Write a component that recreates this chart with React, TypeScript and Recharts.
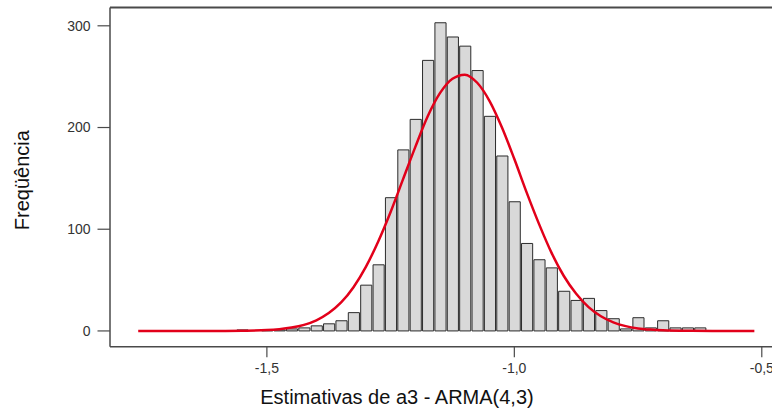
import React from 'react';
import { ComposedChart, Bar, Line, XAxis, YAxis, ReferenceLine, Label } from 'recharts';

// Histogram bins (centre of each 0.025-wide class) and their frequencies
const binCenters = [
  -1.55, -1.525, -1.5, -1.475, -1.45, -1.425, -1.4, -1.375, -1.35, -1.325,
  -1.3, -1.275, -1.25, -1.225, -1.2, -1.175, -1.15, -1.125, -1.1, -1.075,
  -1.05, -1.025, -1.0, -0.975, -0.95, -0.925, -0.9, -0.875, -0.85, -0.825,
  -0.8, -0.775, -0.75, -0.725, -0.7, -0.675, -0.65, -0.625,
];
const binCounts = [
  1, 0, 1, 1, 2, 3, 5, 7, 10, 18,
  45, 65, 131, 178, 208, 266, 303, 289, 280, 256,
  211, 172, 127, 86, 70, 62, 39, 30, 32, 20,
  12, 2, 13, 3, 10, 3, 3, 3,
];

// Fitted normal curve, sampled along the x axis
const curveX = [
  -1.76, -1.6, -1.55, -1.5, -1.475, -1.45, -1.425, -1.4, -1.375, -1.35,
  -1.325, -1.3, -1.275, -1.25, -1.225, -1.2, -1.175, -1.15, -1.125, -1.1,
  -1.075, -1.05, -1.025, -1.0, -0.975, -0.95, -0.925, -0.9, -0.875, -0.85,
  -0.825, -0.8, -0.775, -0.75, -0.725, -0.7, -0.65, -0.6, -0.515,
];
const curveY = [
  0, 0, 0.2, 0.8, 1.7, 3.3, 6, 10.5, 17.6, 28,
  43, 63, 88, 117, 149, 181, 211, 234, 248, 252,
  244, 226, 200, 169, 136, 105, 77, 54, 36.5, 23.4,
  14.4, 8.4, 4.7, 2.5, 1.3, 0.6, 0.1, 0, 0,
];

const xTicks = [-1.5, -1.0, -0.5];
const yTicks = [0, 100, 200, 300];

const BIN_WIDTH = 0.025;
const X_DOMAIN: [number, number] = [-1.817, -0.443];
const Y_DOMAIN: [number, number] = [-15.5, 318];

const histogram = binCenters.map((x, i) => ({ x, count: binCounts[i] }));
const normalCurve = curveX.map((x, i) => ({ x, y: curveY[i] }));

const CHART_W = 800;
const CHART_H = 410;
const MARGIN = { top: 7.5, right: 10, bottom: 0, left: 10 };
const Y_AXIS_W = 100;
const X_AXIS_H = 63.3;
const PLOT_W = CHART_W - MARGIN.left - MARGIN.right - Y_AXIS_W;
const BAR_PX = (BIN_WIDTH * PLOT_W) / (X_DOMAIN[1] - X_DOMAIN[0]);

const FONT = '"Liberation Sans", Arial, sans-serif';
const FRAME = '#4a4a4a';
const TEXT = '#333333';

const formatTick = (v: number) => v.toFixed(1).replace('.', ',');

const XTitle = (props: any) => {
  const vb = props.viewBox;
  return (
    <text
      x={vb.x + 287}
      y={vb.y + 57.5}
      textAnchor="middle"
      fontSize={20}
      fontFamily={FONT}
      fill="#111"
    >
      Estimativas de a3 - ARMA(4,3)
    </text>
  );
};

const YTitle = (props: any) => {
  const vb = props.viewBox;
  const cx = vb.x + 19;
  const cy = vb.y + vb.height / 2 + 3;
  return (
    <text
      x={cx}
      y={cy}
      transform={`rotate(-90 ${cx} ${cy})`}
      textAnchor="middle"
      fontSize={20}
      fontFamily={FONT}
      fill="#111"
    >
      Freqüência
    </text>
  );
};

export default function App() {
  return (
    <div
      style={{
        position: 'absolute',
        left: 0,
        top: 0,
        width: 772,
        height: 410,
        overflow: 'hidden',
        background: '#fff',
      }}
    >
      <ComposedChart
        width={CHART_W}
        height={CHART_H}
        data={histogram}
        margin={MARGIN}
        barCategoryGap={0}
        barGap={0}
      >
        <XAxis
          dataKey="x"
          type="number"
          domain={X_DOMAIN}
          allowDataOverflow
          ticks={xTicks}
          tickFormatter={formatTick}
          height={X_AXIS_H}
          tickSize={10.5}
          tickMargin={5.5}
          axisLine={{ stroke: FRAME, strokeWidth: 1.5 }}
          tickLine={{ stroke: FRAME, strokeWidth: 1.2 }}
          tick={{ fontSize: 14, fontFamily: FONT, fill: TEXT }}
        >
          <Label content={<XTitle />} />
        </XAxis>
        <YAxis
          type="number"
          domain={Y_DOMAIN}
          allowDataOverflow
          ticks={yTicks}
          width={Y_AXIS_W}
          tickSize={12.5}
          tickMargin={7}
          axisLine={{ stroke: FRAME, strokeWidth: 1.5 }}
          tickLine={{ stroke: FRAME, strokeWidth: 1.2 }}
          tick={{ fontSize: 14, fontFamily: FONT, fill: TEXT }}
        >
          <Label content={<YTitle />} />
        </YAxis>
        <ReferenceLine y={Y_DOMAIN[1]} stroke={FRAME} strokeWidth={2} ifOverflow="extendDomain" />
        <Bar
          dataKey="count"
          barSize={BAR_PX}
          fill="#d9d9d9"
          stroke="#2b2b2b"
          strokeWidth={1}
          isAnimationActive={false}
        />
        <Line
          data={normalCurve}
          dataKey="y"
          type="monotone"
          stroke="#e2001a"
          strokeWidth={2.5}
          dot={false}
          activeDot={false}
          isAnimationActive={false}
        />
      </ComposedChart>
    </div>
  );
}
